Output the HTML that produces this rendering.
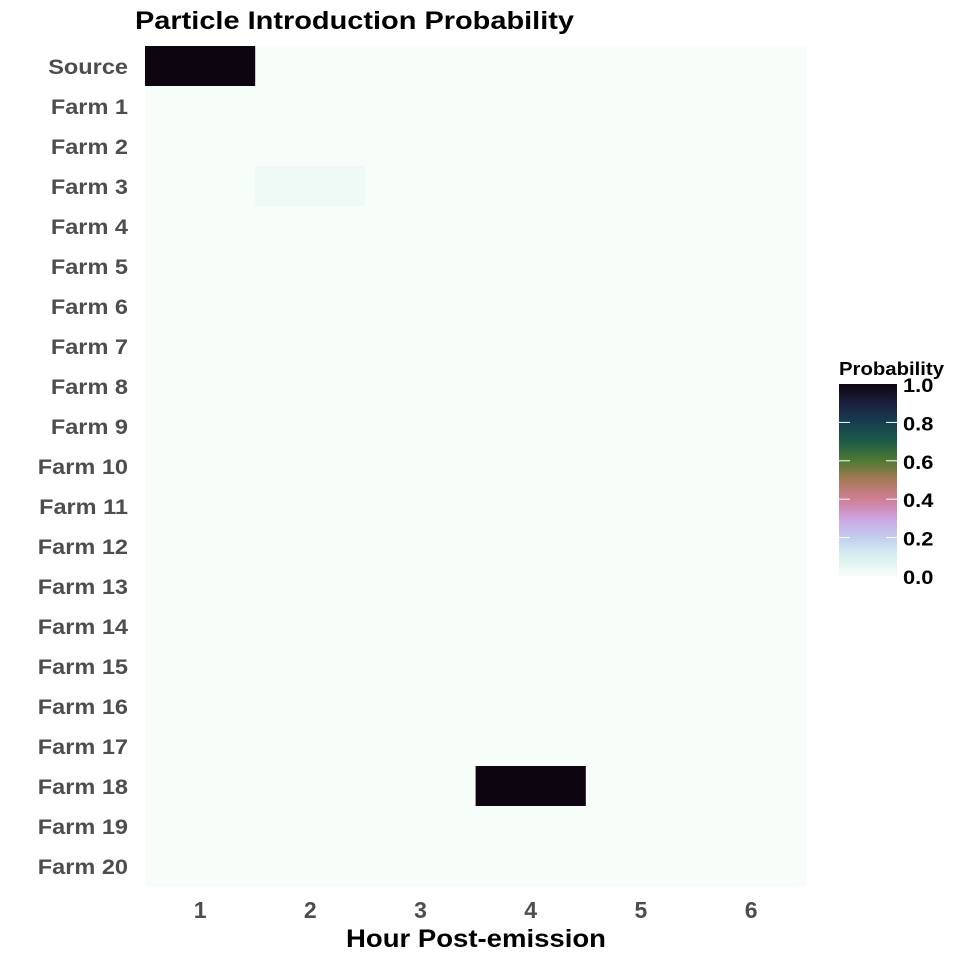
<!DOCTYPE html>
<html><head><meta charset="utf-8"><style>
body{margin:0;background:#fff;font-family:"Liberation Sans",sans-serif}
</style></head><body>
<svg id="chart" width="960" height="960">
<defs><linearGradient id="cg" x1="0" y1="1" x2="0" y2="0">
<stop offset="0" stop-color="#f7fdf9"/><stop offset="0.1" stop-color="#d8f0ee"/><stop offset="0.2" stop-color="#c2cff0"/><stop offset="0.3" stop-color="#cda2e0"/><stop offset="0.4" stop-color="#d07e95"/><stop offset="0.5" stop-color="#a87a58"/><stop offset="0.6" stop-color="#4f7a33"/><stop offset="0.7" stop-color="#1d5a47"/><stop offset="0.8" stop-color="#163e50"/><stop offset="0.9" stop-color="#1d1f3e"/><stop offset="1" stop-color="#0d0510"/>
</linearGradient></defs>
<text x="135" y="29" font-size="25" font-weight="bold" fill="#000" textLength="439" lengthAdjust="spacingAndGlyphs">Particle Introduction Probability</text>
<g id="cells"></g><g id="ylab"></g><g id="xlab"></g>
<text x="476" y="947" font-size="25" font-weight="bold" text-anchor="middle" fill="#000" textLength="260" lengthAdjust="spacingAndGlyphs">Hour Post-emission</text>
<g>
<text x="839" y="375" font-size="18" font-weight="bold" textLength="105" lengthAdjust="spacingAndGlyphs">Probability</text>
<rect x="839" y="384" width="58" height="192" fill="url(#cg)"/>
<g id="leg"></g></g>
</svg>
<script>
const rows=["Source","Farm 1","Farm 2","Farm 3","Farm 4","Farm 5","Farm 6","Farm 7","Farm 8","Farm 9","Farm 10","Farm 11","Farm 12","Farm 13","Farm 14","Farm 15","Farm 16","Farm 17","Farm 18","Farm 19","Farm 20"];
const hours=[1,2,3,4,5,6];
const nonzeroRow=["Source","Farm 3","Farm 18"];
const nonzeroHour=[1,2,4];
const nonzeroVal=[1.0,0.03,1.0];
const legendTicks=[0,0.2,0.4,0.6,0.8,1.0];
const NS="http://www.w3.org/2000/svg";
const x0=145,cw=110.2,y0=46,rh=40;
const xs=h=>x0+(h-1)*cw, ys=r=>y0+rows.indexOf(r)*rh, ly=v=>576-v*192;
const stops=[[0,"#f7fdf9"],[0.1,"#d8f0ee"],[0.2,"#c2cff0"],[0.3,"#cda2e0"],[0.4,"#d07e95"],[0.5,"#a87a58"],[0.6,"#4f7a33"],[0.7,"#1d5a47"],[0.8,"#163e50"],[0.9,"#1d1f3e"],[1,"#0d0510"]];
function col(v){for(let i=1;i<stops.length;i++){if(v<=stops[i][0]){const a=stops[i-1],b=stops[i],t=(v-a[0])/(b[0]-a[0]);const p=s=>[1,3,5].map(k=>parseInt(s.substr(k,2),16));const A=p(a[1]),B=p(b[1]);return "rgb("+A.map((c,j)=>Math.round(c+(B[j]-c)*t)).join(",")+")";}}return stops[stops.length-1][1];}
function widen(t,f){const L=t.getComputedTextLength();t.setAttribute("textLength",L*f);t.setAttribute("lengthAdjust","spacingAndGlyphs");}
const cells=document.getElementById("cells");
rows.forEach(r=>hours.forEach(h=>{let v=0;for(let i=0;i<nonzeroRow.length;i++)if(nonzeroRow[i]===r&&nonzeroHour[i]===h)v=nonzeroVal[i];
const e=document.createElementNS(NS,"rect");e.setAttribute("x",xs(h));e.setAttribute("y",ys(r));e.setAttribute("width",cw+0.5);e.setAttribute("height",rh+0.5);e.setAttribute("fill",col(v));


cells.appendChild(e);}));
const yl=document.getElementById("ylab");
rows.forEach(r=>{const t=document.createElementNS(NS,"text");t.setAttribute("x",128);t.setAttribute("y",ys(r)+rh/2+8);t.setAttribute("text-anchor","end");t.setAttribute("font-size","21");t.setAttribute("font-weight","bold");t.setAttribute("fill","#4d4d4d");t.textContent=r;


yl.appendChild(t);widen(t,1.12);});
const xl=document.getElementById("xlab");
hours.forEach(h=>{const t=document.createElementNS(NS,"text");t.setAttribute("x",xs(h)+cw/2);t.setAttribute("y",918);t.setAttribute("text-anchor","middle");t.setAttribute("font-size","23");t.setAttribute("font-weight","bold");t.setAttribute("fill","#4d4d4d");t.textContent=h;


xl.appendChild(t);});
const lg=document.getElementById("leg");
legendTicks.forEach(v=>{const y=ly(v);
if(v>0&&v<1){[[839,850],[886,897]].forEach(s=>{const l=document.createElementNS(NS,"line");l.setAttribute("x1",s[0]);l.setAttribute("x2",s[1]);l.setAttribute("y1",y);l.setAttribute("y2",y);l.setAttribute("stroke","#fff");l.setAttribute("stroke-width","1");


lg.appendChild(l);});}
const t=document.createElementNS(NS,"text");t.setAttribute("x",903);t.setAttribute("y",y+8);t.setAttribute("font-size","19");t.setAttribute("font-weight","bold");t.textContent=v.toFixed(1);


lg.appendChild(t);widen(t,1.15);});
</script>
</body></html>
